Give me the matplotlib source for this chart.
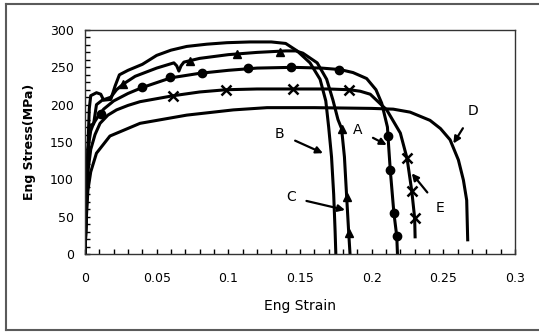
import numpy as np
import matplotlib
matplotlib.use("Agg")
import matplotlib.pyplot as plt
from matplotlib.lines import Line2D
from matplotlib.ticker import MultipleLocator

plt.rcParams["font.family"] = ["DejaVu Sans"]

# --- DATA ----------------------------------------------------------
# B: top curve, no markers
b_strain = [0, 0.001, 0.002, 0.003, 0.004, 0.008, 0.011, 0.013, 0.018, 0.021, 0.024, 0.03, 0.04,
            0.05, 0.06, 0.071, 0.085, 0.099, 0.115, 0.13, 0.14, 0.148, 0.157, 0.164, 0.168,
            0.170, 0.172, 0.1735, 0.1745, 0.175]
b_stress = [0, 60, 140, 195, 212, 216, 214, 206, 207, 225, 240, 246, 254,
            266, 273, 278, 281, 283, 284, 284, 282, 272, 256, 234, 205,
            170, 130, 80, 30, 0]

# C: triangles
c_strain = [0, 0.002, 0.003, 0.006, 0.008, 0.012, 0.018, 0.022, 0.027, 0.035, 0.05, 0.062,
            0.064, 0.0655, 0.067, 0.069, 0.08, 0.1, 0.12, 0.14, 0.147, 0.152, 0.162, 0.1686,
            0.173, 0.1765, 0.179, 0.181, 0.1826, 0.184, 0.1849]
c_stress = [0, 120, 172, 174, 200, 206, 210, 220, 228, 238, 249, 256,
            252, 245, 252, 257, 262, 267, 270, 272, 272, 269, 256, 234,
            206, 180, 168, 130, 75, 28, 0]
c_mark_strain = [0.0267, 0.073, 0.106, 0.136, 0.179, 0.1825, 0.184]
c_mark_stress = [228, 259, 268, 271, 168, 77, 28]

# A: circles
a_strain = [0, 0.001, 0.002, 0.004, 0.006, 0.009, 0.013, 0.02, 0.03, 0.04, 0.06, 0.08, 0.1,
            0.12, 0.145, 0.165, 0.178, 0.187, 0.1965, 0.203, 0.207, 0.211, 0.212, 0.213,
            0.2155, 0.2175, 0.218]
a_stress = [0, 80, 140, 165, 175, 184, 194, 205, 215, 223, 236, 242, 246,
            249, 250, 249, 247, 243, 235, 220, 202, 170, 140, 112,
            55, 24, 0]
a_mark_strain = [0.011, 0.0395, 0.0593, 0.0814, 0.114, 0.1435, 0.1775, 0.2113, 0.2125, 0.2155, 0.2175]
a_mark_stress = [188, 223, 237, 243, 249, 250, 247, 158, 112, 55, 24]

# E: crosses
e_strain = [0, 0.001, 0.002, 0.004, 0.007, 0.0105, 0.016, 0.022, 0.03, 0.0384, 0.05, 0.0616,
            0.08, 0.0984, 0.12, 0.145, 0.17, 0.1844, 0.192, 0.199, 0.2105, 0.22, 0.2247, 0.228,
            0.23, 0.2303]
e_stress = [0, 70, 110, 140, 160, 175, 186, 193, 199, 204, 208, 212,
            217, 220, 221, 221, 221, 220, 218, 214, 193, 162, 128, 84,
            48, 23]
e_mark_strain = [0.0616, 0.0984, 0.1453, 0.1844, 0.2247, 0.228, 0.23]
e_mark_stress = [212, 220, 221, 220, 128, 84, 48]

# D: lowest curve, no markers
d_strain = [0, 0.001, 0.002, 0.004, 0.008, 0.0174, 0.0384, 0.071, 0.1035, 0.127, 0.16, 0.2,
            0.215, 0.2268, 0.2407, 0.248, 0.2547, 0.2605, 0.264, 0.2663, 0.267]
d_stress = [0, 50, 85, 110, 135, 158, 175, 186, 193, 196, 196, 195,
            194, 190, 179, 168, 153, 126, 99, 72, 19]

# curve labels: (text, text position, arrow tip)
labels = [("B", (0.136, 161), (0.166, 135)),
          ("A", (0.1905, 166), (0.2105, 146)),
          ("C", (0.1435, 76), (0.1814, 59)),
          ("E", (0.2475, 62), (0.228, 108)),
          ("D", (0.271, 191), (0.257, 148))]

# --- PLOT ----------------------------------------------------------
fig = plt.figure(figsize=(5.39, 3.32), dpi=100)
ax = fig.add_axes([85 / 539, 1 - 254 / 332, 430 / 539, 224 / 332])

lw = 2.2
ax.plot(b_strain, b_stress, color="k", lw=lw)
ax.plot(c_strain, c_stress, color="k", lw=lw)
ax.plot(c_mark_strain, c_mark_stress, "^", color="k", ms=6)
ax.plot(a_strain, a_stress, color="k", lw=lw)
ax.plot(a_mark_strain, a_mark_stress, "o", color="k", ms=6)
ax.plot(e_strain, e_stress, color="k", lw=lw)
ax.plot(e_mark_strain, e_mark_stress, "x", color="k", ms=7, mew=1.8)
ax.plot(d_strain, d_stress, color="k", lw=lw)

for txt, pos, tip in labels:
    ax.annotate(txt, xy=tip, xytext=pos, fontsize=10, ha="center", va="center",
                arrowprops=dict(arrowstyle="-|>", color="k", lw=1.6,
                                mutation_scale=10, shrinkA=6, shrinkB=0))

ax.set_xlim(0, 0.3)
ax.set_ylim(0, 300)
ax.set_xticks([0, 0.05, 0.1, 0.15, 0.2, 0.25, 0.3])
ax.set_xticklabels(["0", "0.05", "0.1", "0.15", "0.2", "0.25", "0.3"])
ax.set_yticks(np.arange(0, 301, 50))
ax.xaxis.set_minor_locator(MultipleLocator(0.01))
ax.yaxis.set_minor_locator(MultipleLocator(10))
ax.tick_params(which="both", direction="in", length=3.5, width=1, labelsize=9)
ax.tick_params(axis="x", which="both", pad=13)
ax.tick_params(axis="y", which="both", pad=8)

for s in ax.spines.values():
    s.set_color("#333333")
    s.set_linewidth(1)

ax.set_xlabel("Eng Strain", fontsize=10, labelpad=10)
ax.set_ylabel("Eng Stress(MPa)", fontsize=9, fontweight="bold", labelpad=10)

# outer frame (no right edge)
frame_color = "#5a5a5a"
fig.add_artist(Line2D([6 / 539, 1], [1 - 4 / 332, 1 - 4 / 332], color=frame_color, lw=1.5))
fig.add_artist(Line2D([6 / 539, 1], [1 - 330 / 332, 1 - 330 / 332], color=frame_color, lw=1.5))
fig.add_artist(Line2D([6 / 539, 6 / 539], [1 - 4 / 332, 1 - 330 / 332], color=frame_color, lw=1.5))

fig.savefig("out.png", dpi=100)
